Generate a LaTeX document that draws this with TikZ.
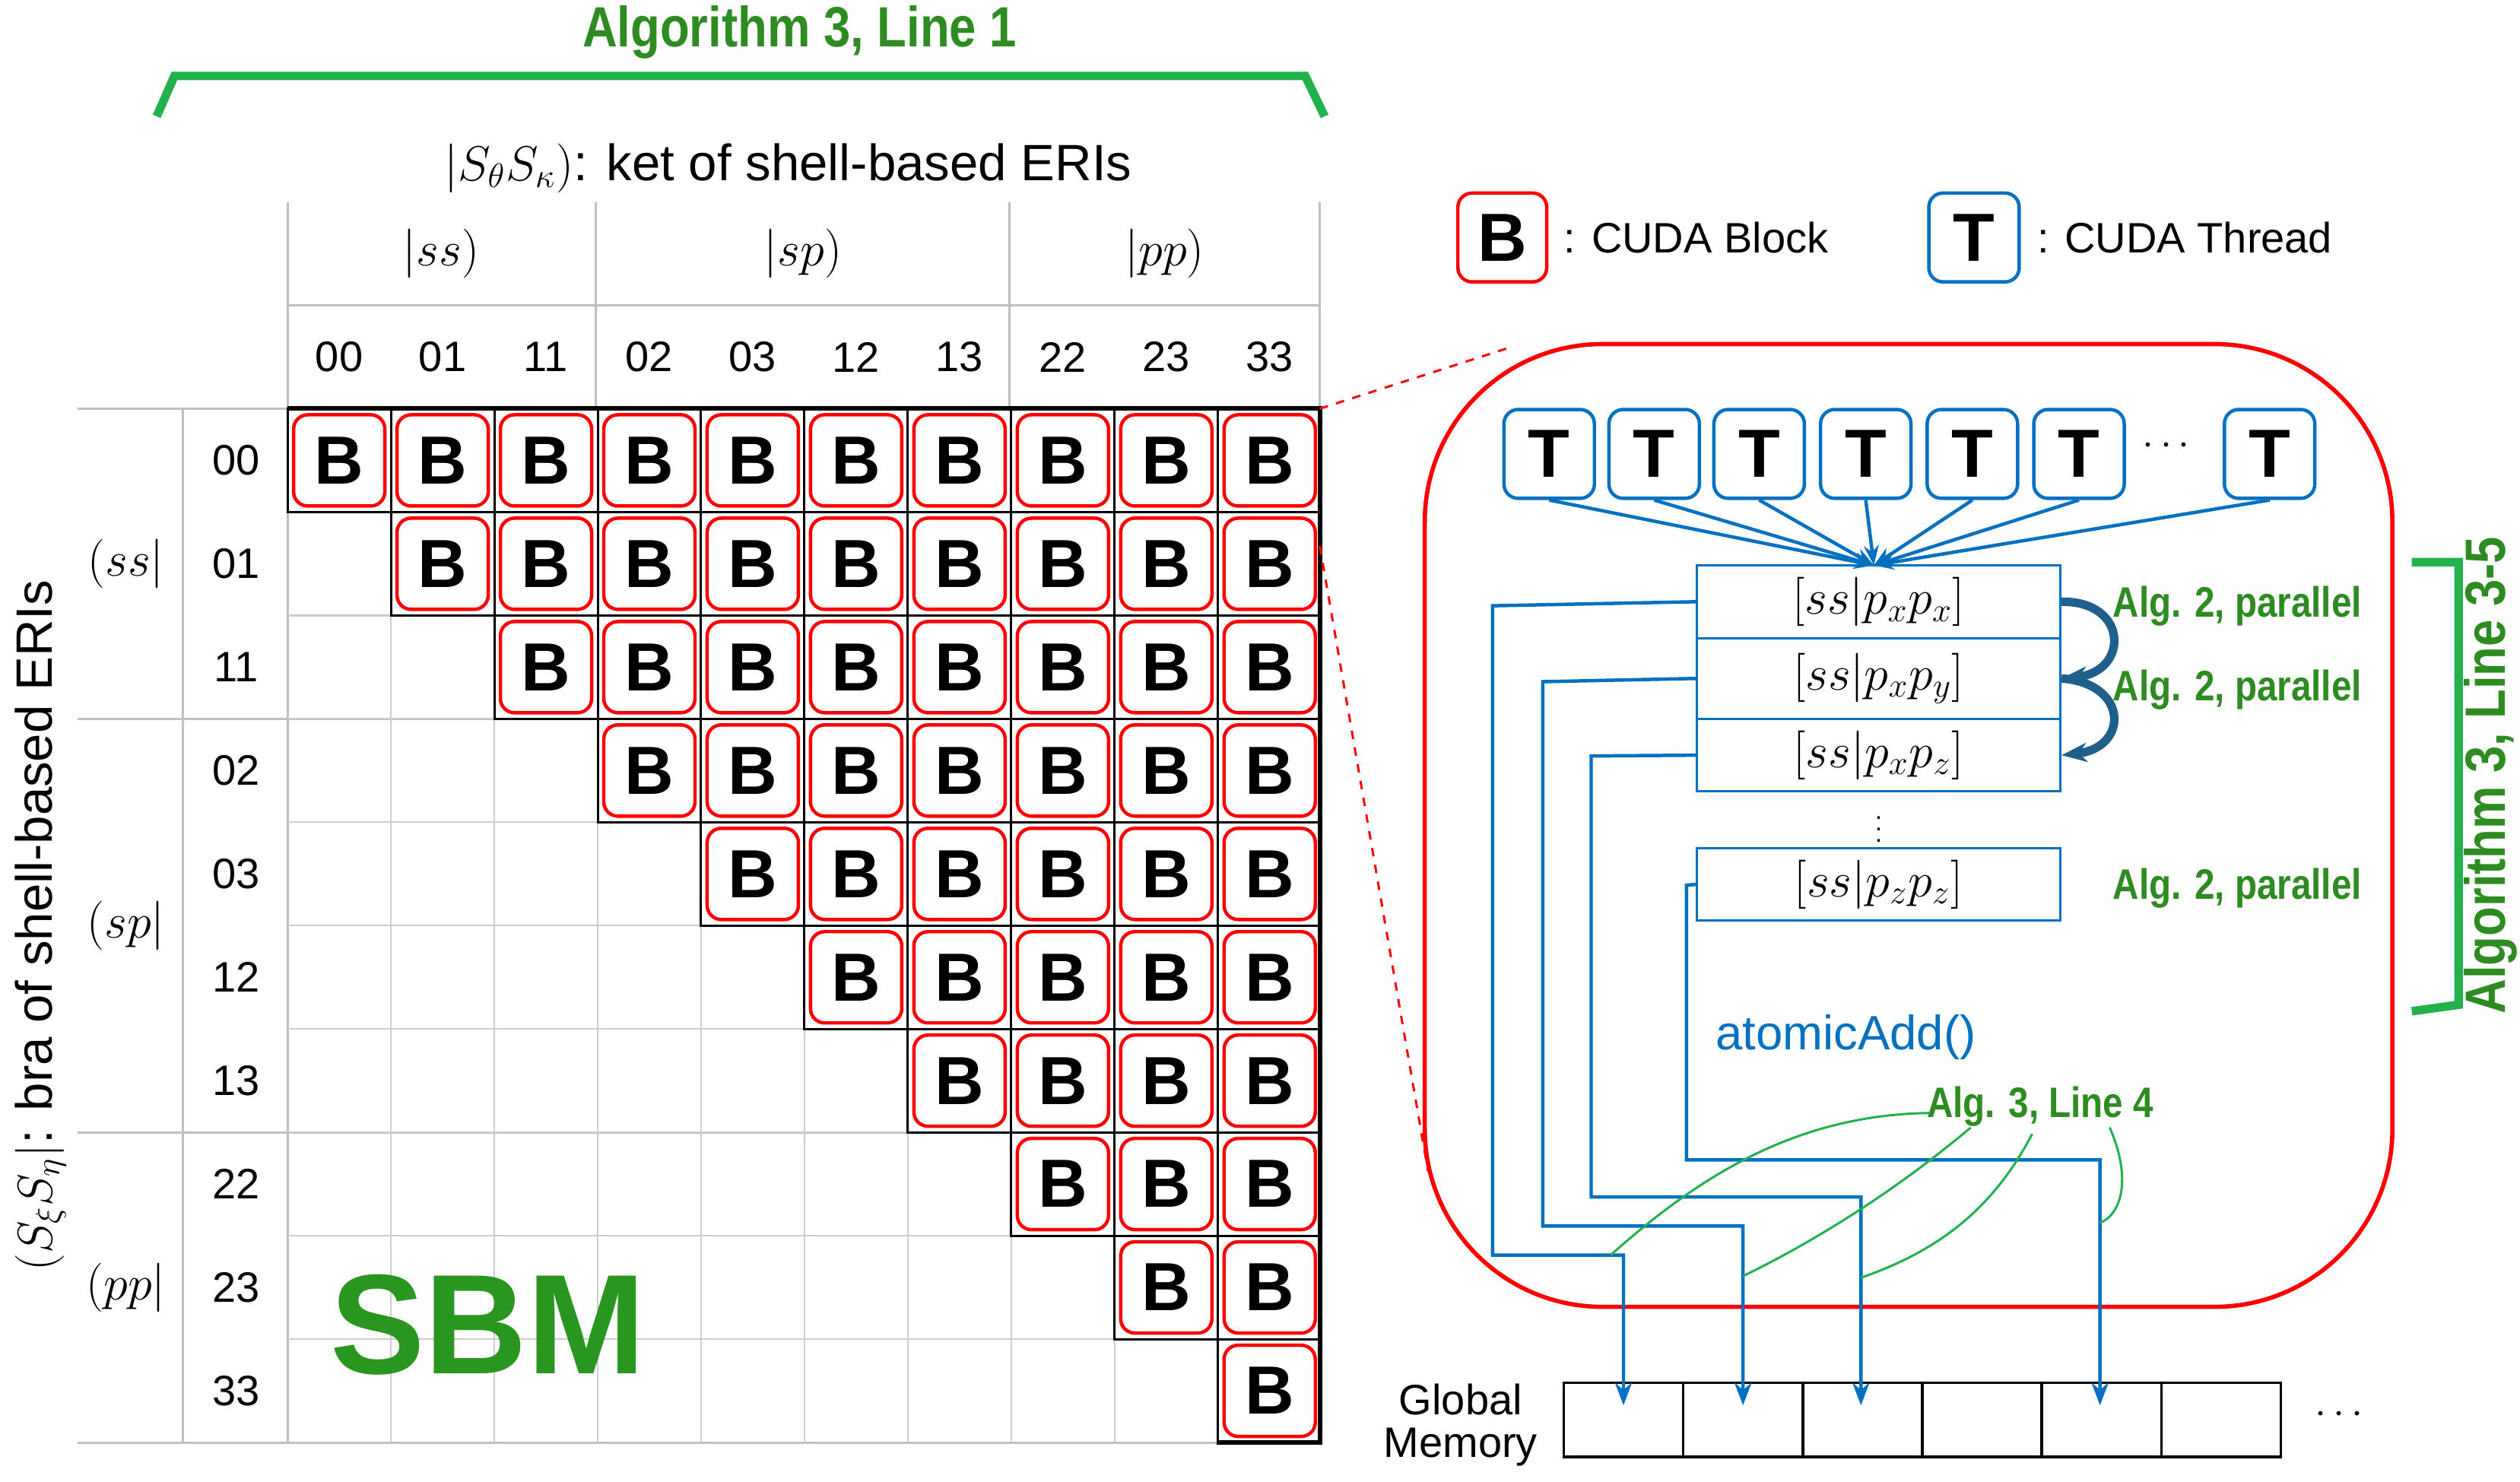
\documentclass[tikz,border=0pt]{standalone}
\usepackage{fontspec}
\setmainfont{Liberation Sans}
\usepackage{amsmath}
\usetikzlibrary{arrows.meta}
\definecolor{gr}{HTML}{22B14C}
\definecolor{gt}{HTML}{2E8B22}
\definecolor{bl}{HTML}{0070C0}
\definecolor{db}{HTML}{1F5F8B}
\begin{document}
\begin{tikzpicture}[x=0.02cm,y=-0.02cm,
 bb/.style={draw=red,line width=1.2pt,rounded corners=5pt,minimum size=1.13cm,inner sep=0pt,font=\fontsize{24}{24}\selectfont\bfseries},
 tt/.style={draw=bl,line width=1.2pt,rounded corners=5pt,minimum width=1.12cm,minimum height=1.1cm,inner sep=0pt,font=\fontsize{24}{24}\selectfont\bfseries},
 lab/.style={font=\fontsize{15}{15}\selectfont},
 galg/.style={text=gt,font=\fontsize{15}{15}\selectfont\bfseries,xscale=0.85},
 mb/.style={draw=bl,line width=0.8pt,minimum width=4.5cm,inner sep=0pt,font=\fontsize{17}{17}\selectfont},
 wire/.style={bl,line width=1.2pt},
 gl/.style={gr,line width=0.8pt}]
\useasboundingbox (0,0) rectangle (1560,917);
% top bracket
\draw[gr,line width=3pt] (97,72) -- (108,47) -- (808,47) -- (820,72);
\node[text=gt,font=\fontsize{20}{20}\selectfont\bfseries,xscale=0.85] (t1) at (495,20) {Algorithm 3, Line 1};
\node[lab,font=\fontsize{18}{18}\selectfont] (ket) at (488,104) {$|S_\theta S_\kappa)$: ket of shell-based ERIs};
% header grid
\draw[gray!50,line width=0.8pt] (178,125) -- (178,893) (369,125) -- (369,253) (625,125) -- (625,253) (817,125) -- (817,253)
 (178,189) -- (817,189) (48,253) -- (817,253) (113,253) -- (113,893) (48,445) -- (817,445) (48,701) -- (817,701) (48,893) -- (817,893);
\foreach \k in {1,...,9}{\draw[gray!40,line width=0.6pt] (178+64*\k,253) -- (178+64*\k,893) (178,253+64*\k) -- (817,253+64*\k);}
\node[lab,font=\fontsize{17}{17}\selectfont] (hss) at (273,157) {$|ss)$};
\node[lab,font=\fontsize{17}{17}\selectfont] (hsp) at (497,157) {$|sp)$};
\node[lab,font=\fontsize{17}{17}\selectfont] (hpp) at (721,157) {$|pp)$};
\foreach \s [count=\i from 0] in {00,01,11,02,03,12,13,22,23,33}{
 \node[lab] (c\i) at (210+64*\i,221) {\s};
 \node[lab] (r\i) at (146,285+64*\i) {\s};
 \foreach \j in {\i,...,9}{
  \draw[black,line width=0.8pt] (178+64*\j,253+64*\i) rectangle (242+64*\j,317+64*\i);
  \node[bb] (b\i-\j) at (210+64*\j,285+64*\i) {B};
 }}
\draw[black,line width=1.6pt] (178,253) -- (817,253) -- (817,893) -- (753,893);
\node[lab,font=\fontsize{17}{17}\selectfont] (gss) at (78,349) {$(ss|$};
\node[lab,font=\fontsize{17}{17}\selectfont] (gsp) at (78,573) {$(sp|$};
\node[lab,font=\fontsize{17}{17}\selectfont] (gpp) at (78,797) {$(pp|$};
\node[lab,font=\fontsize{18}{18}\selectfont,rotate=90] (bra) at (25,573) {$(S_\xi S_\eta|$: bra of shell-based ERIs};
\node[text=gt!90!green,font=\fontsize{50}{50}\selectfont\bfseries] (sbm) at (302,820) {SBM};
% legend
\node[bb,minimum size=1.1cm] (lb) at (930,147) {B};
\node[lab,anchor=west] (lbt) at (962,147) {: CUDA Block};
\node[tt] (lt) at (1222,147) {T};
\node[lab,anchor=west] (ltt) at (1255,147) {: CUDA Thread};
% big box
\draw[red,line width=1.5pt,rounded corners=2.2cm] (882,213) rectangle (1481,809);
\draw[red,dashed,line width=0.8pt] (817,253) -- (935,215);
\draw[red,dashed,line width=0.8pt] (817,338) -- (884,725);
% threads
\coordinate (hub) at (1160,350);
\foreach \x [count=\n] in {959,1024,1089,1155,1221,1287,1405}{
 \node[tt] (T\n) at (\x,281) {T};
 \draw[bl,line width=1.2pt,-{Stealth[length=7pt]}] (T\n.south) -- (hub);}
\node[lab] (tdots) at (1343,276) {$\cdots$};
% math boxes
\node[mb,minimum height=0.9cm] (m1) at (1163,372.5) {$[ss|p_xp_x]$};
\node[mb,minimum height=1cm] (m2) at (1163,420) {$[ss|p_xp_y]$};
\node[mb,minimum height=0.9cm] (m3) at (1163,467.5) {$[ss|p_xp_z]$};
\node[font=\fontsize{9}{9}\selectfont,inner sep=0pt] (vd) at (1163,508) {$\vdots$};
\node[mb,minimum height=0.9cm] (m4) at (1163,547.5) {$[ss|p_zp_z]$};
\draw[db,line width=3pt,-{Stealth[length=9pt]}] (m1.east) .. controls (1318,372) and (1318,416) .. (m2.east);
\draw[db,line width=3pt,-{Stealth[length=9pt]}] (m2.east) .. controls (1318,423) and (1318,463) .. (m3.east);
\node[galg] (a1) at (1385,375) {Alg. 2, parallel};
\node[galg] (a2) at (1385,427) {Alg. 2, parallel};
\node[galg] (a3) at (1385,550) {Alg. 2, parallel};
% right bracket
\draw[gr,line width=3pt] (1493,348) -- (1522,348) -- (1522,622) -- (1493,626);
\node[text=gt,font=\fontsize{20}{20}\selectfont\bfseries,rotate=90,xscale=0.85] (t3) at (1542,480) {Algorithm 3, Line 3-5};
% global memory
\foreach \k in {0,...,5}{\draw[black,line width=1pt] (968+74*\k,856) rectangle (1042+74*\k,902);}
\coordinate (g1) at (1005,870); \coordinate (g2) at (1079,870); \coordinate (g3) at (1152,870); \coordinate (g4) at (1300,870);
\node[lab,align=center,anchor=east] (gm) at (958,882) {Global\\Memory};
\node[lab] (gd) at (1450,876) {$\cdots$};
% wires
\draw[wire,-{Stealth[length=8pt]}] (m1.west) -- (924,375) -- (924,777) -- (1005,777) -- (g1);
\draw[wire,-{Stealth[length=8pt]}] (m2.west) -- (955,422) -- (955,759) -- (1079,759) -- (g2);
\draw[wire,-{Stealth[length=8pt]}] (m3.west) -- (985,468) -- (985,741) -- (1152,741) -- (g3);
\draw[wire,-{Stealth[length=8pt]}] (m4.west) -- (1044,548) -- (1044,718) -- (1300,718) -- (g4);
\node[text=bl,font=\fontsize{17}{17}\selectfont,anchor=west] (aa) at (1056,642) {atomicAdd()};
\node[galg] (a4) at (1263,685) {Alg. 3, Line 4};
\draw[gl] (1195,689) .. controls (1110,690) and (1050,730) .. (997,777);
\draw[gl] (1220,698) .. controls (1170,740) and (1120,770) .. (1079,790);
\draw[gl] (1258,702) .. controls (1233,750) and (1198,775) .. (1152,791);
\draw[gl] (1306,698) .. controls (1320,730) and (1313,752) .. (1300,757);
\end{tikzpicture}
\end{document}
